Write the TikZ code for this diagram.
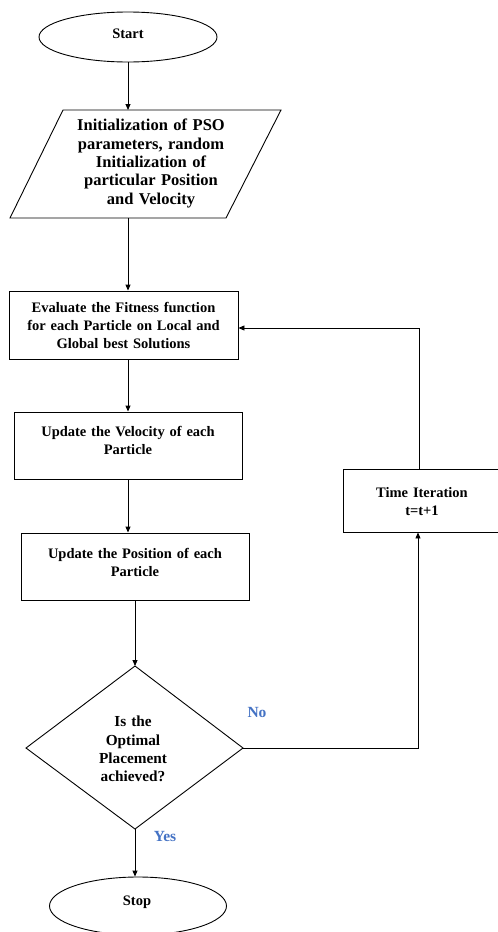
\documentclass[tikz,border=0pt]{standalone}
\usepackage{fontspec}
\setmainfont{Liberation Serif}
\usetikzlibrary{shapes.geometric,arrows.meta}
\definecolor{lblue}{HTML}{4472C4}
\begin{document}
\begin{tikzpicture}[x=1pt,y=-1pt,
  line width=0.9pt,
  arr/.style={-{Triangle[length=6pt,width=5pt]}},
  txt/.style={font=\fontsize{14.5}{18}\selectfont\bfseries, align=center, inner sep=0pt},
  bigtxt/.style={font=\fontsize{16.5}{18.3}\selectfont\bfseries, align=center, inner sep=0pt},
  boxx/.style={draw, rectangle, inner sep=0pt},
  lab/.style={font=\fontsize{15.5}{17}\selectfont\bfseries, text=lblue, inner sep=0pt}]
\useasboundingbox (0,0) rectangle (498,932);
% Start
\node[draw, ellipse, minimum width=178, minimum height=50, inner sep=0pt] (start) at (128,37) {};
\node[txt] (startt) at (128,34) {Start};
% Initialization parallelogram
\coordinate (p1) at (63,110);
\coordinate (p2) at (281,110);
\coordinate (p3) at (226,218);
\coordinate (p4) at (10,218);
\draw (p1) -- (p2) -- (p3) -- (p4) -- cycle;
\coordinate (initTop) at (128,110);
\coordinate (initBot) at (128,218);
\node[bigtxt, text width=200] (initt) at (151,163.5) {Initialization of PSO\\parameters, random\\Initialization of\\particular Position\\and Velocity};
% Evaluate
\node[boxx, minimum width=229, minimum height=68] (eval) at (123.5,325) {};
\node[txt, text width=225] (evalt) at (123.5,325) {Evaluate the Fitness function\\for each Particle on Local and\\Global best Solutions};
% Velocity
\node[boxx, minimum width=228, minimum height=67] (vel) at (128,445.5) {};
\node[txt, text width=225] (velt) at (128,440) {Update the Velocity of each\\Particle};
% Position
\node[boxx, minimum width=228, minimum height=67] (pos) at (135,566.5) {};
\node[txt, text width=225] (post) at (135,562) {Update the Position of each\\Particle};
% Decision diamond
\coordinate (dtop) at (135,666);
\coordinate (dright) at (243,748);
\coordinate (dbot) at (135,829);
\coordinate (dleft) at (26,748);
\draw (dtop) -- (dright) -- (dbot) -- (dleft) -- cycle;
\node[txt, font=\fontsize{15.3}{18.3}\selectfont\bfseries, text width=120] (dect) at (133,749) {Is the\\Optimal\\Placement\\achieved?};
% Stop
\node[draw, ellipse, minimum width=177, minimum height=58, inner sep=0pt] (stop) at (138,906) {};
\node[txt] (stopt) at (137,902) {Stop};
% Time iteration
\node[boxx, minimum width=162, minimum height=63] (time) at (424,500.5) {};
\node[txt, text width=150] (timet) at (422,502) {Time Iteration\\t=t+1};
% connectors
\draw[arr] (start.south) -- (initTop);
\draw[arr] (initBot) -- (initBot |- eval.north);
\draw[arr] (initBot |- eval.south) -- (initBot |- vel.north);
\draw[arr] (vel.south) -- (vel.south |- pos.north);
\draw[arr] (pos.south) -- (dtop);
\draw[arr] (dbot) -- (dbot |- stop.north);
\coordinate (rc) at (418,748);
\draw[arr] (dright) -- (rc) -- (rc |- time.south);
\coordinate (tc) at (419,328);
\draw[arr] (tc |- time.north) -- (tc) -- (tc -| eval.east);
% labels
\node[lab] (no) at (257,712) {No};
\node[lab] (yes) at (165,836) {Yes};
\end{tikzpicture}
\end{document}
